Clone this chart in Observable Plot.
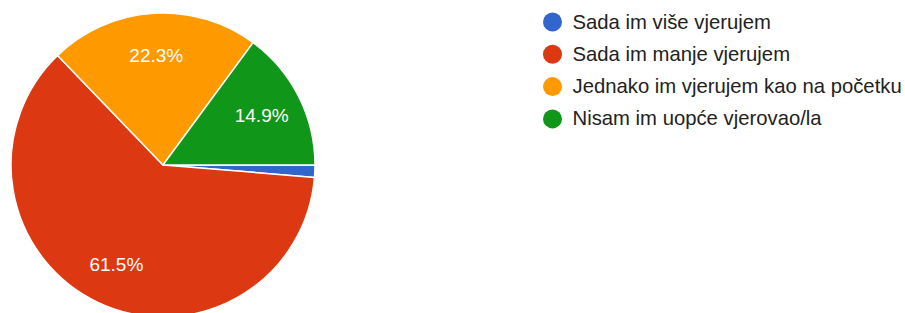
<!DOCTYPE html>
<html><head><meta charset="utf-8">
<script src="https://cdn.jsdelivr.net/npm/d3@7"></script>
<script src="https://cdn.jsdelivr.net/npm/@observablehq/plot@0.6"></script>
<style>body{margin:0;background:#fff} svg{display:block}</style>
</head><body><div id="chart"></div>
<script>
const categories = ["Sada im više vjerujem", "Sada im manje vjerujem", "Jednako im vjerujem kao na početku", "Nisam im uopće vjerovao/la"];
const values = [1.3, 61.5, 22.3, 14.9];
const labels = ["1.3%", "61.5%", "22.3%", "14.9%"];
const colors = ["#3366cc", "#dc3912", "#ff9900", "#109618"];

const cx = 163, cy = 165, R = 152, rLabel = 110;
const arcs = d3.pie().sort(null).startAngle(Math.PI / 2).endAngle(Math.PI / 2 + 2 * Math.PI)(values);
const labelArc = d3.arc().innerRadius(rLabel).outerRadius(rLabel);
const sliceLabels = arcs
  .filter(d => (d.endAngle - d.startAngle) > 0.2)
  .map(d => {
    const [x, y] = labelArc.centroid(d);
    return {x: cx + x, y: cy + y, text: labels[d.index]};
  });
const legend = categories.map((c, i) => ({cat: c, x: 552, y: 21.5 + i * 32.3}));

function pieMark(index, scales) {
  const g = d3.create("svg:g").attr("transform", `translate(${cx},${cy})`);
  g.selectAll("path").data(arcs).join("path")
    .attr("d", d3.arc().innerRadius(0).outerRadius(R))
    .attr("fill", d => scales.color(categories[d.index]))
    .attr("stroke", "white")
    .attr("stroke-width", 1.5)
    .attr("stroke-linejoin", "round");
  return g.node();
}

const chart = Plot.plot({
  width: 905,
  height: 313,
  margin: 0,
  style: {fontFamily: "'Liberation Sans', Arial, sans-serif", background: "white"},
  x: {type: "identity", axis: null},
  y: {type: "identity", axis: null},
  color: {domain: categories, range: colors},
  marks: [
    pieMark,
    Plot.text(sliceLabels, {x: "x", y: "y", text: "text", fill: "white", fontSize: 19, textAnchor: "middle"}),
    Plot.dot(legend, {x: "x", y: "y", r: 9.5, fill: "cat", stroke: null}),
    Plot.text(legend, {x: d => d.x + 20, y: "y", text: "cat", fill: "#222", fontSize: 20.3, textAnchor: "start"})
  ]
});
document.getElementById("chart").appendChild(chart);
</script>
</body></html>
